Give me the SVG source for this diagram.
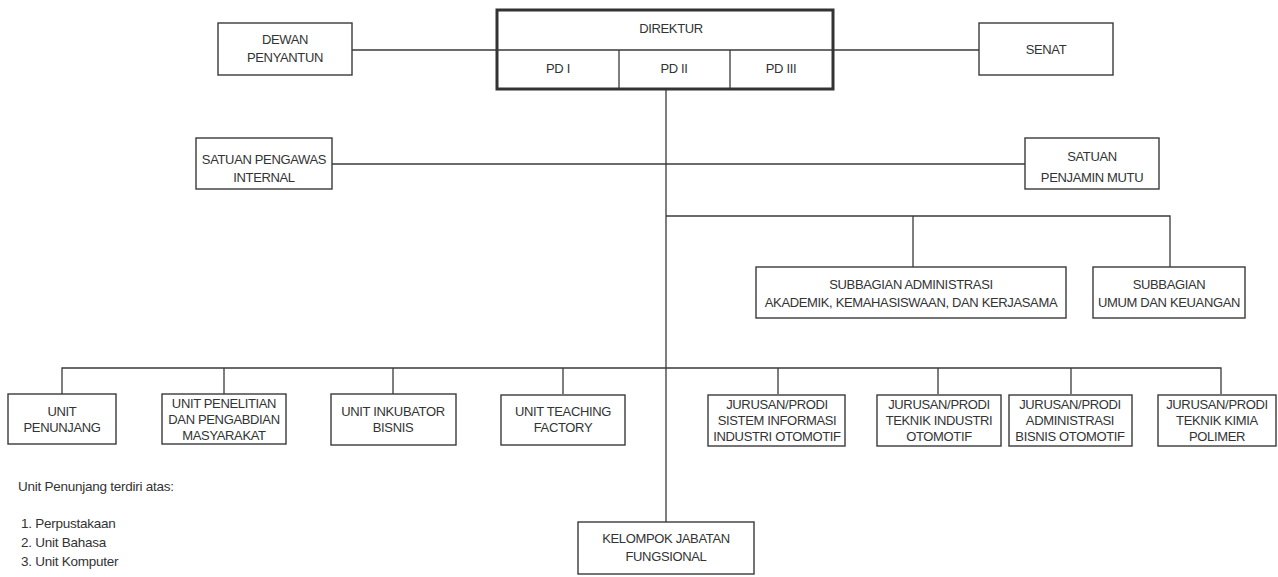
<svg xmlns="http://www.w3.org/2000/svg" width="1278" height="577" viewBox="0 0 1278 577">
<style>
.b{fill:#fff;stroke:#3a3a3a;stroke-width:1.4}
.bt{fill:#fff;stroke:#333;stroke-width:3}
.l{stroke:#3a3a3a;stroke-width:1.3;fill:none}
text{font-family:"Liberation Sans",Arial,sans-serif;font-size:13px;fill:#333;letter-spacing:-0.35px;text-anchor:middle}
.lg{text-anchor:start;letter-spacing:-0.25px;font-size:13.5px}
</style>
<rect width="1278" height="577" fill="#fff"/>
<g id="connectors">
<path class="l" d="M352 50H497M833 50H979"/>
<path class="l" d="M666 89V522"/>
<path class="l" d="M332 164H1025"/>
<path class="l" d="M666 216H1170V267M913 216V267"/>
<path class="l" d="M62 394V368H1221V394M224 368V394M393 368V394M563 368V394M778 368V394M938 368V394M1071 368V394"/>
</g>
<g id="dewan"><rect class="b" x="218" y="23" width="134" height="52"/><text x="285" y="44">DEWAN</text><text x="285" y="62">PENYANTUN</text></g>
<g id="direktur"><rect class="bt" x="497" y="10" width="336" height="79"/><path class="l" d="M497 50H833M619 50V89M730 50V89"/><text x="671" y="33">DIREKTUR</text></g>
<g id="pd1"><text x="558" y="73">PD I</text></g>
<g id="pd2"><text x="674" y="73">PD II</text></g>
<g id="pd3"><text x="781" y="73">PD III</text></g>
<g id="senat"><rect class="b" x="979" y="23" width="134" height="52"/><text x="1046" y="54">SENAT</text></g>
<g id="spi"><rect class="b" x="196" y="138" width="136" height="51"/><text x="264" y="164">SATUAN PENGAWAS</text><text x="264" y="182">INTERNAL</text></g>
<g id="spm"><rect class="b" x="1025" y="138" width="134" height="51"/><text x="1092" y="161">SATUAN</text><text x="1092" y="182">PENJAMIN MUTU</text></g>
<g id="sbaak"><rect class="b" x="756" y="267" width="310" height="51"/><text x="911" y="289">SUBBAGIAN ADMINISTRASI</text><text x="911" y="307">AKADEMIK, KEMAHASISWAAN, DAN KERJASAMA</text></g>
<g id="sbuk"><rect class="b" x="1093" y="267" width="152" height="51"/><text x="1169" y="289">SUBBAGIAN</text><text x="1169" y="307">UMUM DAN KEUANGAN</text></g>
<g id="penunjang"><rect class="b" x="8" y="394" width="108" height="50"/><text x="62" y="416">UNIT</text><text x="62" y="432">PENUNJANG</text></g>
<g id="penelitian"><rect class="b" x="162" y="394" width="124" height="50"/><text x="224" y="408">UNIT PENELITIAN</text><text x="224" y="424">DAN PENGABDIAN</text><text x="224" y="440">MASYARAKAT</text></g>
<g id="inkubator"><rect class="b" x="331" y="394" width="125" height="51"/><text x="393" y="416">UNIT INKUBATOR</text><text x="393" y="432">BISNIS</text></g>
<g id="teaching"><rect class="b" x="501" y="395" width="124" height="50"/><text x="563" y="416">UNIT TEACHING</text><text x="563" y="432">FACTORY</text></g>
<g id="sisinf"><rect class="b" x="708" y="395" width="137" height="51"/><text x="777" y="409">JURUSAN/PRODI</text><text x="777" y="425">SISTEM INFORMASI</text><text x="777" y="441">INDUSTRI OTOMOTIF</text></g>
<g id="tio"><rect class="b" x="877" y="395" width="124" height="51"/><text x="939" y="409">JURUSAN/PRODI</text><text x="939" y="425">TEKNIK INDUSTRI</text><text x="939" y="441">OTOMOTIF</text></g>
<g id="abo"><rect class="b" x="1009" y="395" width="123" height="51"/><text x="1070" y="409">JURUSAN/PRODI</text><text x="1070" y="425">ADMINISTRASI</text><text x="1070" y="441">BISNIS OTOMOTIF</text></g>
<g id="tkp"><rect class="b" x="1158" y="395" width="118" height="51"/><text x="1217" y="409">JURUSAN/PRODI</text><text x="1217" y="425">TEKNIK KIMIA</text><text x="1217" y="441">POLIMER</text></g>
<g id="kjf"><rect class="b" x="578" y="522" width="176" height="52"/><text x="666" y="543">KELOMPOK JABATAN</text><text x="666" y="561">FUNGSIONAL</text></g>
<g id="legend">
<text class="lg" x="18" y="491">Unit Penunjang terdiri atas:</text>
<text class="lg" x="21" y="528">1. Perpustakaan</text>
<text class="lg" x="21" y="547">2. Unit Bahasa</text>
<text class="lg" x="21" y="566">3. Unit Komputer</text>
</g>
</svg>
